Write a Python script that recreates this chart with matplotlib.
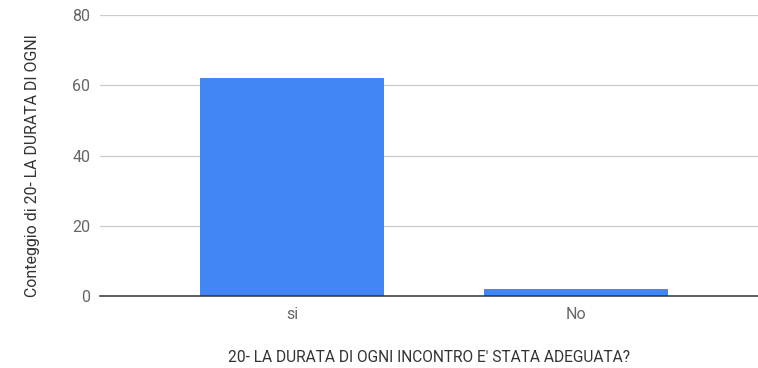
import matplotlib
matplotlib.use("Agg")
import matplotlib.pyplot as plt

categories = ["si", "No"]
values = [62, 2]
yticks = [0, 20, 40, 60, 80]

plt.rcParams['font.family'] = ['Roboto', 'DejaVu Sans']

fig = plt.figure(figsize=(7.58, 3.68), dpi=100)
ax = fig.add_axes([100/758, 72/368, 658/758, 281/368])

x = list(range(len(categories)))
ax.bar(x, values, width=0.648, color="#4285f4", zorder=3)
ax.set_xlim(-0.676, 1.641)
ax.set_ylim(0, 80)
ax.set_yticks(yticks)
ax.set_xticks(x)
ax.set_xticklabels(categories)
ax.yaxis.grid(True, color="#cccccc", linewidth=0.9, zorder=0)
for s in ["top", "right", "left"]:
    ax.spines[s].set_visible(False)
ax.spines["bottom"].set_color("#333333")
ax.spines["bottom"].set_linewidth(1.1)
ax.spines["bottom"].set_zorder(4)
ax.tick_params(axis="both", length=0, labelsize=11.5, labelcolor="#666666")
ax.tick_params(axis="y", pad=7)
ax.tick_params(axis="x", pad=8)
ax.set_ylabel("Conteggio di 20- LA DURATA DI OGNI", fontsize=11.4, color="#333333")
ax.yaxis.set_label_coords(-0.103, 0.463)
ax.yaxis.label.set_verticalalignment("center")
ax.set_xlabel("20- LA DURATA DI OGNI INCONTRO E' STATA ADEGUATA?", fontsize=11.2, color="#333333", labelpad=20)

fig.savefig("out.png", dpi=100, facecolor="white")
